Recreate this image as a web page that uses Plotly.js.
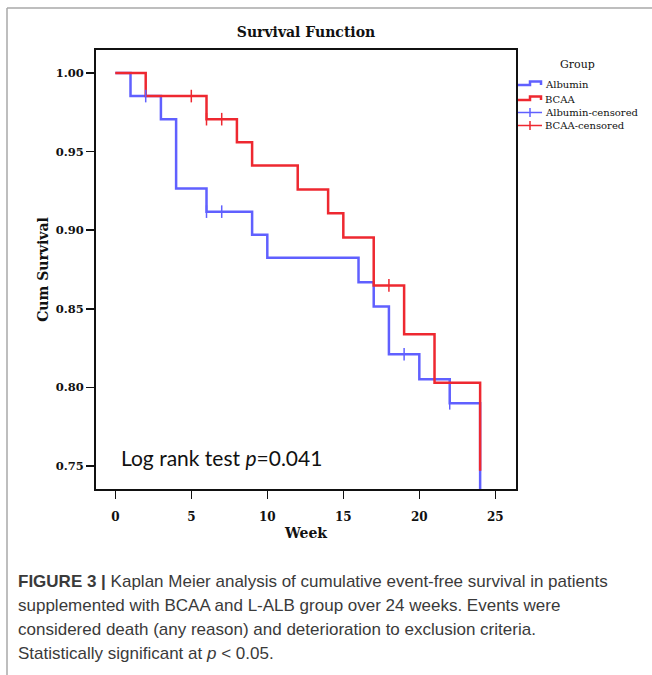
<!DOCTYPE html>
<html>
<head>
<meta charset="utf-8">
<script src="https://cdn.plot.ly/plotly-3.0.1.min.js"></script>
<style>html,body{margin:0;padding:0;background:#fff;}#chart{width:652px;height:675px;}</style>
</head>
<body>
<div id="chart"></div>
<script>
// ---- data ----
const albuminWeeks = [0, 1, 3, 4, 6, 9, 10, 16, 17, 18, 20, 22, 24];
const albuminSurv  = [1.0, 0.9853, 0.9706, 0.9265, 0.9118, 0.8971, 0.8824, 0.8669, 0.8515, 0.8211, 0.8052, 0.7899, 0.70];
const bcaaWeeks = [0, 2, 6, 8, 9, 12, 14, 15, 17, 19, 21, 24];
const bcaaSurv  = [1.0, 0.9853, 0.9706, 0.9559, 0.9412, 0.9258, 0.9107, 0.8953, 0.8649, 0.8338, 0.8029, 0.747];
const albuminCensWeeks = [2, 6, 7, 19, 22];
const albuminCensSurv  = [0.9853, 0.9118, 0.9118, 0.8211, 0.7899];
const bcaaCensWeeks = [5, 6, 7, 18];
const bcaaCensSurv  = [0.9853, 0.9706, 0.9706, 0.8649];
const xTicks = [0, 5, 10, 15, 20, 25];
const yTicks = [0.75, 0.80, 0.85, 0.90, 0.95, 1.00];
const legendNames = ["Albumin", "BCAA", "Albumin-censored", "BCAA-censored"];

const BLUE = "rgb(96,96,255)";
const RED = "rgb(238,40,48)";
const SERIF = "DejaVu Serif, serif";

// plot area in pixels
const L = 96, R = 516, T = 50, B = 489;
const W = 652, H = 675;
const px = x => (x - L) / (R - L);
const py = y => (B - y) / (B - T);

const traces = [
  {x: albuminWeeks, y: albuminSurv, mode: "lines", line: {shape: "hv", color: BLUE, width: 2.5}, name: legendNames[0]},
  {x: bcaaWeeks, y: bcaaSurv, mode: "lines", line: {shape: "hv", color: RED, width: 2.5}, name: legendNames[1]},
  {x: albuminCensWeeks, y: albuminCensSurv, mode: "markers", name: legendNames[2],
   marker: {symbol: "line-ns-open", size: 9, color: BLUE, line: {color: BLUE, width: 1.5}}},
  {x: bcaaCensWeeks, y: bcaaCensSurv, mode: "markers", name: legendNames[3],
   marker: {symbol: "line-ns-open", size: 9, color: RED, line: {color: RED, width: 1.5}}}
];

const shapes = [
  // outer figure border
  {type: "line", xref: "paper", yref: "paper", x0: px(7), x1: px(W), y0: py(8), y1: py(8), line: {color: "#a8a8a8", width: 1.5}},
  {type: "line", xref: "paper", yref: "paper", x0: px(7), x1: px(7), y0: py(8), y1: py(H), line: {color: "#a8a8a8", width: 1.5}},
  // legend icons
  {type: "path", xref: "paper", yref: "paper",
   path: `M ${px(518)},${py(85)} L ${px(530)},${py(85)} L ${px(530)},${py(81.5)} L ${px(541)},${py(81.5)} L ${px(541)},${py(85)}`,
   line: {color: BLUE, width: 2.5}},
  {type: "path", xref: "paper", yref: "paper",
   path: `M ${px(518)},${py(100)} L ${px(530)},${py(100)} L ${px(530)},${py(96.5)} L ${px(541)},${py(96.5)} L ${px(541)},${py(100)}`,
   line: {color: RED, width: 2.5}},
  {type: "line", xref: "paper", yref: "paper", x0: px(518), x1: px(542), y0: py(112.5), y1: py(112.5), line: {color: BLUE, width: 1.5}},
  {type: "line", xref: "paper", yref: "paper", x0: px(530), x1: px(530), y0: py(108), y1: py(117), line: {color: BLUE, width: 1.5}},
  {type: "line", xref: "paper", yref: "paper", x0: px(518), x1: px(542), y0: py(125.5), y1: py(125.5), line: {color: RED, width: 1.5}},
  {type: "line", xref: "paper", yref: "paper", x0: px(530), x1: px(530), y0: py(121), y1: py(130), line: {color: RED, width: 1.5}}
];

const capFont = {family: "Liberation Sans, Arial, sans-serif", size: 17, color: "#3a3a3a"};
const captionLines = [
  "<b>FIGURE 3 |</b> Kaplan Meier analysis of cumulative event-free survival in patients",
  "supplemented with BCAA and L-ALB group over 24 weeks. Events were",
  "considered death (any reason) and deterioration to exclusion criteria.",
  "Statistically significant at <i>p</i> &lt; 0.05."
];
const captionY = [581, 605, 629, 653];

const annotations = [
  {xref: "paper", yref: "paper", x: px(119), y: py(457), xanchor: "left", yanchor: "middle", showarrow: false,
   text: "Log rank test <i>p</i>=0.041", font: {family: "Lato, sans-serif", size: 21, color: "#111"}},
  {xref: "paper", yref: "paper", x: px(577), y: py(65), xanchor: "center", yanchor: "middle", showarrow: false,
   text: "Group", font: {family: SERIF, size: 11, color: "#111"}}
];
const legY = [84.5, 99, 112.5, 125.5];
legendNames.forEach((n, i) => annotations.push({xref: "paper", yref: "paper", x: px(543), y: py(legY[i]), xanchor: "left", yanchor: "middle",
  showarrow: false, text: n, font: {family: SERIF, size: 10, color: "#111"}}));
captionLines.forEach((t, i) => annotations.push({xref: "paper", yref: "paper", x: px(16), y: py(captionY[i]), xanchor: "left", yanchor: "middle",
  showarrow: false, text: t, font: capFont}));

const layout = {
  width: W, height: H,
  margin: {l: L, r: W - R, t: T, b: H - B, pad: 0},
  paper_bgcolor: "#fff", plot_bgcolor: "#fff",
  showlegend: false,
  title: {text: "Survival Function", x: px(306), xref: "paper", y: 1 - 32 / H, yanchor: "middle", xanchor: "center",
          font: {family: SERIF, size: 14, weight: "bold", color: "#111"}},
  xaxis: {range: [-1.27, 26.36], tickvals: xTicks, ticktext: xTicks.map(String), ticks: "outside", ticklen: 8, tickwidth: 1.5, tickcolor: "#111",
          ticklabelstandoff: 8,
          showline: true, linewidth: 2, linecolor: "#111", mirror: true, showgrid: false, zeroline: false,
          tickfont: {family: SERIF, size: 12, weight: "bold", color: "#111"},
          title: {text: "Week", standoff: 5, font: {family: SERIF, size: 14, weight: "bold", color: "#111"}}},
  yaxis: {range: [0.7354, 1.0146], tickvals: yTicks, ticktext: yTicks.map(v => v.toFixed(2)), ticks: "outside", ticklen: 8, tickwidth: 1.5, tickcolor: "#111",
          showline: true, linewidth: 2, linecolor: "#111", mirror: true, showgrid: false, zeroline: false,
          tickfont: {family: SERIF, size: 11.5, weight: "bold", color: "#111"},
          title: {text: "Cum Survival", standoff: 4, font: {family: SERIF, size: 14, weight: "bold", color: "#111"}}},
  shapes: shapes,
  annotations: annotations
};

Plotly.newPlot("chart", traces, layout, {staticPlot: true, displayModeBar: false});
</script>
</body>
</html>
